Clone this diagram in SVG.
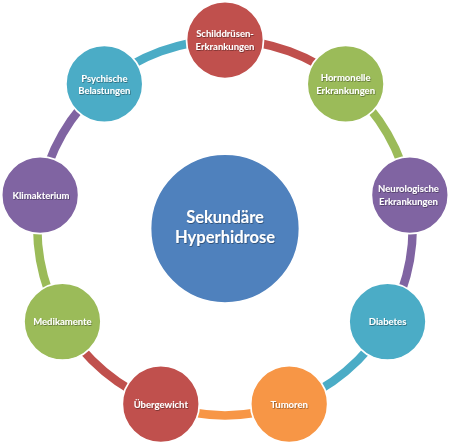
<svg xmlns="http://www.w3.org/2000/svg" width="450" height="445" viewBox="0 0 450 445">
<defs>
<filter id="ts" x="-20%" y="-20%" width="140%" height="140%">
<feDropShadow dx="0.6" dy="0.8" stdDeviation="0.5" flood-color="#000" flood-opacity="0.45"/>
</filter>
</defs>
<style>
.arc{fill:none;stroke-width:8.5}
.node circle{stroke:#fff;stroke-width:1.75}
.node text{fill:#fff;font-family:Lato,"Liberation Sans",sans-serif;font-weight:bold;font-size:9.5px;text-anchor:middle;filter:url(#ts)}
#center text{font-size:16.5px}
.red{fill:#C0504D}.green{fill:#9BBB59}.purple{fill:#8064A2}.teal{fill:#4BACC6}.orange{fill:#F79646}.blue{fill:#4F81BD}
</style>
<rect width="450" height="445" fill="#fff"/>
<g id="connectors">
<path class="arc" stroke="#C0504D" d="M225,40 A187.7,187.7 0 0 1 345.65,83.91"/>
<path class="arc" stroke="#9BBB59" d="M345.65,83.91 A187.7,187.7 0 0 1 409.85,195.11"/>
<path class="arc" stroke="#8064A2" d="M409.85,195.11 A187.7,187.7 0 0 1 387.55,321.55"/>
<path class="arc" stroke="#4BACC6" d="M387.55,321.55 A187.7,187.7 0 0 1 289.2,404.08"/>
<path class="arc" stroke="#F79646" d="M289.2,404.08 A187.7,187.7 0 0 1 160.8,404.08"/>
<path class="arc" stroke="#C0504D" d="M160.8,404.08 A187.7,187.7 0 0 1 62.45,321.55"/>
<path class="arc" stroke="#9BBB59" d="M62.45,321.55 A187.7,187.7 0 0 1 40.15,195.11"/>
<path class="arc" stroke="#8064A2" d="M40.15,195.11 A187.7,187.7 0 0 1 104.35,83.91"/>
<path class="arc" stroke="#4BACC6" d="M104.35,83.91 A187.7,187.7 0 0 1 225,40"/>
</g>
<g id="center" class="node">
<circle class="blue" cx="225" cy="228.5" r="74.5"/>
<text x="225" y="222.5">Sekundäre</text>
<text x="225" y="242.5">Hyperhidrose</text>
</g>
<g id="schilddruesen" class="node">
<circle class="red" cx="225" cy="40" r="38.5"/>
<text x="225" y="37">Schilddrüsen-</text>
<text x="225" y="50">Erkrankungen</text>
</g>
<g id="hormonelle" class="node">
<circle class="green" cx="345.65" cy="83.91" r="38.5"/>
<text x="345.65" y="80.5">Hormonelle</text>
<text x="345.65" y="93.5">Erkrankungen</text>
</g>
<g id="neurologische" class="node">
<circle class="purple" cx="409.85" cy="195.11" r="38.5"/>
<text x="408.5" y="192">Neurologische</text>
<text x="408.5" y="204.5">Erkrankungen</text>
</g>
<g id="diabetes" class="node">
<circle class="teal" cx="387.55" cy="321.55" r="38.5"/>
<text x="387.55" y="325">Diabetes</text>
</g>
<g id="tumoren" class="node">
<circle class="orange" cx="289.2" cy="404.08" r="38.5"/>
<text x="289.2" y="407.5">Tumoren</text>
</g>
<g id="uebergewicht" class="node">
<circle class="red" cx="160.8" cy="404.08" r="38.5"/>
<text x="160.8" y="407.5">Übergewicht</text>
</g>
<g id="medikamente" class="node">
<circle class="green" cx="62.45" cy="321.55" r="38.5"/>
<text x="62.45" y="325">Medikamente</text>
</g>
<g id="klimakterium" class="node">
<circle class="purple" cx="40.15" cy="195.11" r="38.5"/>
<text x="41" y="198.5">Klimakterium</text>
</g>
<g id="psychische" class="node">
<circle class="teal" cx="104.35" cy="83.91" r="38.5"/>
<text x="104.35" y="81.5">Psychische</text>
<text x="104.35" y="93.5">Belastungen</text>
</g>
</svg>
